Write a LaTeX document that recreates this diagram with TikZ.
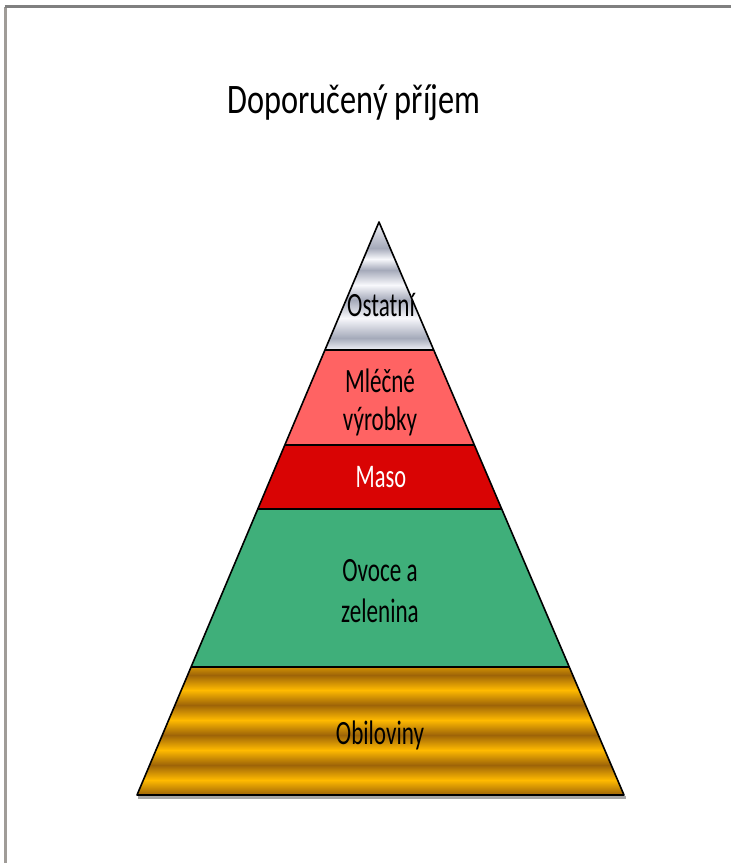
\documentclass[tikz,border=0pt]{standalone}
\usepackage{fontspec}
\setmainfont{Carlito}
\newfontfamily\titlefont[FakeStretch=0.77]{Carlito}
\newfontfamily\labelfont[FakeStretch=0.68]{Carlito}
\usetikzlibrary{positioning}

\definecolor{framegrey}{RGB}{128,128,128}
\definecolor{frameleft}{RGB}{160,156,152}
\definecolor{silverlt}{RGB}{248,248,252}
\definecolor{silverdk}{RGB}{165,170,186}
\definecolor{milkred}{RGB}{255,99,99}
\definecolor{meatred}{RGB}{217,4,4}
\definecolor{vegreen}{RGB}{63,175,122}
\definecolor{grainlt}{RGB}{255,186,0}
\definecolor{graindk}{RGB}{158,100,8}

\begin{document}
\begin{tikzpicture}[x=1pt,y=-1pt,
  every node/.style={inner sep=0pt},
  layer/.style={line width=1.6pt, line join=round},
  lbl/.style={font=\labelfont\fontsize{34}{38}\selectfont, align=center, anchor=base}]
\useasboundingbox (0,0) rectangle (731,863);
% frame
\draw[frameleft, line width=2.5pt] (5.5,863) -- (5.5,6.5);
\draw[framegrey, line width=3pt] (4.5,6.5) -- (731,6.5);
\node[font=\titlefont\fontsize{42}{50}\selectfont, anchor=base] (title) at (354,113) {Doporučený příjem};

% corners of the layers
\coordinate (apex) at (379,222);
\coordinate (l1) at (324.9,350); \coordinate (r1) at (433.7,350);
\coordinate (l2) at (284.8,445); \coordinate (r2) at (474.4,445);
\coordinate (l3) at (257.8,509); \coordinate (r3) at (501.7,509);
\coordinate (l4) at (191.1,667); \coordinate (r4) at (569.3,667);
\coordinate (bl) at (137,795);   \coordinate (br) at (624,795);

% shadow under the base
\draw[gray!70, line width=2.5pt] (138,797.5) -- (626,797.5);

% top: silver
\begin{scope}
  \clip (apex) -- (r1) -- (l1) -- cycle;
  \foreach \ya/\yb/\ca/\cb in {220/248/silverlt/silverdk, 248/259/silverdk/silverlt,
      259/270/silverlt/silverdk, 270/285/silverdk/silverlt, 285/300/silverlt/silverdk,
      300/318/silverdk/silverlt, 318/338/silverlt/silverdk, 338/351/silverdk/silverlt}
    \shade[top color=\ca, bottom color=\cb] (300,\ya) rectangle (460,\yb);
\end{scope}
\fill[milkred] (l1) -- (r1) -- (r2) -- (l2) -- cycle;
\fill[meatred] (l2) -- (r2) -- (r3) -- (l3) -- cycle;
\fill[vegreen] (l3) -- (r3) -- (r4) -- (l4) -- cycle;
% bottom: grain stripes
\begin{scope}
  \clip (l4) -- (r4) -- (br) -- (bl) -- cycle;
  \foreach \y in {660,690,...,780} {
    \shade[top color=grainlt, bottom color=graindk] (130,\y) rectangle (630,\y+15);
    \shade[top color=graindk, bottom color=grainlt] (130,\y+15) rectangle (630,\y+30);
  }
\end{scope}

% outlines
\draw[layer] (apex) -- (br) -- (bl) -- cycle;
\draw[layer] (l1) -- (r1);
\draw[layer] (l2) -- (r2);
\draw[layer] (l3) -- (r3);
\draw[layer] (l4) -- (r4);

% labels (base = last line)
\node[lbl] (ostatni) at (381,316) {Ostatní};
\node[lbl] (mlecne) at (380,430) {Mléčné\\výrobky};
\node[lbl, text=white, font=\labelfont\fontsize{33}{38}\selectfont] (maso) at (381,487) {Maso};
\node[lbl] (ovoce) at (380,622) {Ovoce a\\[3pt]zelenina};
\node[lbl] (obiloviny) at (380,744) {Obiloviny};
\end{tikzpicture}
\end{document}
